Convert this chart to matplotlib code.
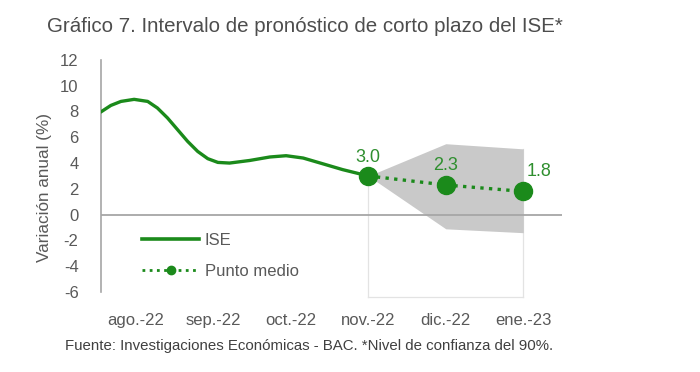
import numpy as np
from matplotlib import pyplot as plt
from matplotlib.lines import Line2D

# ---------------------------------------------------------------
# datos
# ---------------------------------------------------------------
meses = ['ago.-22', 'sep.-22', 'oct.-22', 'nov.-22', 'dic.-22', 'ene.-23']

# ISE observado (posicion en el eje de meses, valor)
ise_x = [-0.45, -0.32, -0.19, -0.02, 0.155, 0.28, 0.41, 0.54, 0.67, 0.8, 0.93,
         1.06, 1.21, 1.47, 1.73, 1.94, 2.16, 2.41, 2.67, 3.0]
ise_y = [7.96, 8.47, 8.78, 8.94, 8.78, 8.27, 7.5, 6.59, 5.68, 4.9, 4.34,
         4.05, 4.0, 4.2, 4.47, 4.57, 4.39, 3.95, 3.49, 3.0]

# pronostico
pron_x = [3, 4, 5]
punto_medio = [3.0, 2.3, 1.8]
limite_sup = [3.0, 5.5, 5.1]
limite_inf = [3.0, -1.1, -1.4]

verde = '#1b8a1b'
gris_txt = '#595959'
plt.rcParams['font.family'] = ['Liberation Sans', 'DejaVu Sans']
plt.rcParams['axes.unicode_minus'] = False

fig = plt.figure(figsize=(7, 3.72), dpi=100)
ax = fig.add_axes([0.144, 0.215, 0.659, 0.624])

# banda del intervalo
ax.fill_between(pron_x, limite_inf, limite_sup, color='#c9c9c9', lw=0, zorder=1)
ax.axhline(0, color='#a6a6a6', lw=1.3, zorder=2)

# marco tenue del pronostico
caja = dict(color='#e3e3e3', lw=0.9, clip_on=False, zorder=0)
ax.plot([3, 3], [-6.4, 3.0], **caja)
ax.plot([5, 5], [-6.4, limite_sup[-1]], **caja)
ax.plot([3, 5], [-6.4, -6.4], **caja)

ax.plot(ise_x, ise_y, color=verde, lw=2.4, solid_capstyle='round',
        solid_joinstyle='round', zorder=3)
ax.plot(pron_x, punto_medio, color=verde, lw=2.4, ls=(0, (1, 1.6)), zorder=3)
ax.plot(pron_x, punto_medio, 'o', color=verde, ms=13, zorder=4)

# etiquetas de datos
etq_off = [(0, 7), (0, 8), (11, 8)]
for x, y, off in zip(pron_x, punto_medio, etq_off):
    ax.annotate('{:.1f}'.format(y), (x, y), xytext=off, textcoords='offset points',
                ha='center', va='bottom', color='#2f8f2f', fontsize=13)

ax.set_xlim(-0.45, 5.5)
ax.set_ylim(-6, 12)
ax.set_yticks(np.arange(-6, 13, 2))
ax.set_xticks(range(len(meses)))
ax.set_xticklabels(meses)
ax.tick_params(axis='both', length=0, labelsize=12, colors=gris_txt)
ax.tick_params(axis='x', pad=15)
ax.tick_params(axis='y', pad=16)
for s in ['top', 'right', 'bottom']:
    ax.spines[s].set_visible(False)
ax.spines['left'].set_color('#a6a6a6')
ax.spines['left'].set_linewidth(1.2)

handles = [Line2D([], [], color=verde, lw=2.6),
           Line2D([], [], color=verde, lw=2, ls=(0, (1, 1.6)), marker='o', ms=6,
                  markevery=[1])]
leg = ax.legend(handles, ['ISE', 'Punto medio'], loc='upper left',
                bbox_to_anchor=(0.09, 0.255), frameon=False, fontsize=12,
                handlelength=3.4, handletextpad=0.35, labelspacing=0.95,
                borderpad=0, borderaxespad=0)
for t in leg.get_texts():
    t.set_color(gris_txt)

fig.text(47/700, 1-27/372, 'Gráfico 7. Intervalo de pronóstico de corto plazo del ISE*',
         fontsize=14.8, color='#4d4d4d', va='center', ha='left')
fig.text(45/700, 1-188/372, 'Variación anual (%)', rotation=90, fontsize=12.3,
         color=gris_txt, ha='center', va='center')
fig.text(65/700, 1-346/372,
         'Fuente: Investigaciones Económicas - BAC. *Nivel de confianza del 90%.',
         fontsize=10.8, color='#404040', va='center', ha='left')

fig.savefig('out.png', dpi=100)
